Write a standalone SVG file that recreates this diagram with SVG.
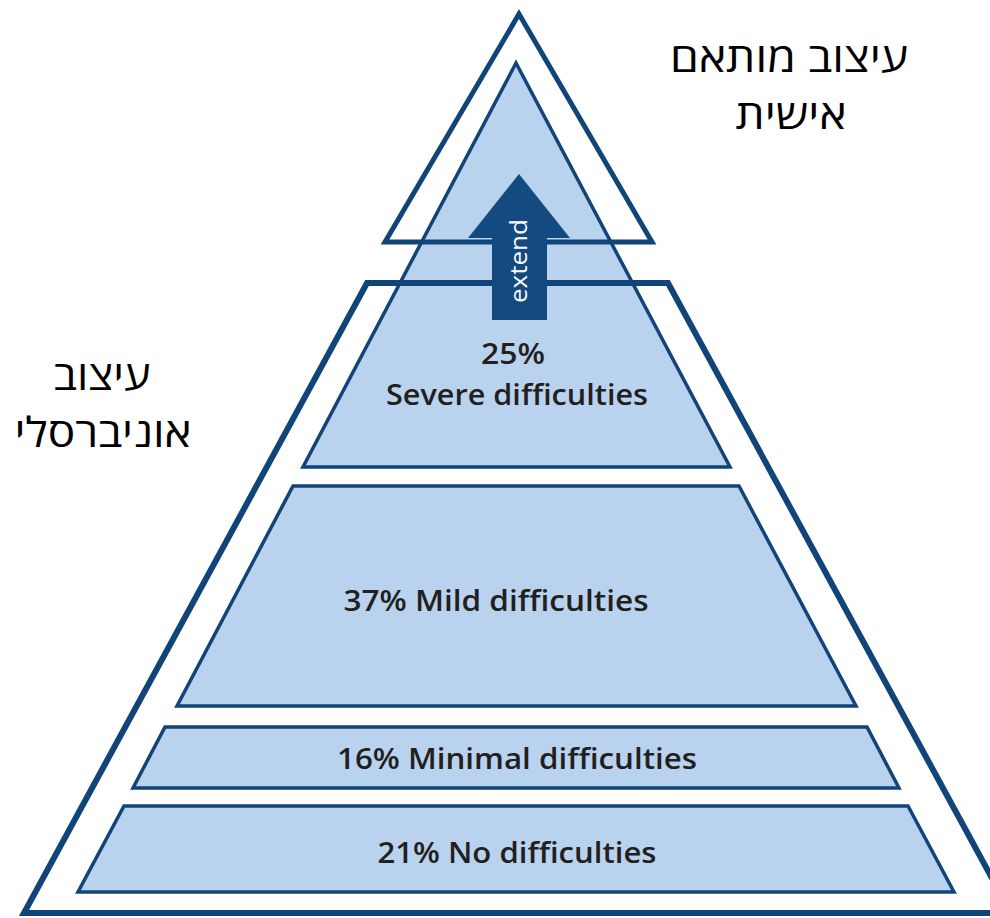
<svg xmlns="http://www.w3.org/2000/svg" width="990" height="918" viewBox="0 0 990 918">
<style>
.band{fill:#b9d3ef;stroke:#114479;stroke-width:3.5;stroke-linejoin:miter}
.frame{fill:none;stroke:#114479;stroke-linejoin:miter}
.lbl{font-family:"Open Sans","Liberation Sans",sans-serif;font-weight:600;fill:#231f20;text-anchor:middle}
.heb{font-family:"Open Sans","DejaVu Sans","Liberation Sans",sans-serif;font-size:41px;fill:#000;text-anchor:middle}
</style>
<rect width="990" height="918" fill="#fff"/>
<g id="band-severe"><polygon class="band" points="516,63 303,467 730,467"/></g>
<g id="band-mild"><polygon class="band" points="293,486 739,486 856,706 177,706"/></g>
<g id="band-minimal"><polygon class="band" points="165,727 867,727 899,788 133,788"/></g>
<g id="band-none"><polygon class="band" points="124,806 908,806 954,892 78,892"/></g>
<g id="universal-frame"><polygon class="frame" stroke-width="6" points="367,283 668,283 1011,913 24,913"/></g>
<g id="personal-frame"><polygon class="frame" stroke-width="5" points="519,14 652,242 385,242"/></g>
<g id="connectors">
<polygon id="extend-arrow" fill="#134a7f" points="519,174 570,238 547,238 547,320 492,320 492,238 468,238"/>
<text transform="translate(527,261) rotate(-90)" font-family="'Open Sans','Liberation Sans',sans-serif" font-size="23" fill="#fff" text-anchor="middle" textLength="84" lengthAdjust="spacingAndGlyphs">extend</text>
</g>
<g id="labels">
<text class="lbl" x="513" y="364" font-size="29" textLength="64" lengthAdjust="spacingAndGlyphs">25%</text>
<text class="lbl" x="517" y="405" font-size="29" textLength="262" lengthAdjust="spacingAndGlyphs">Severe difficulties</text>
<text class="lbl" x="496" y="611" font-size="29" textLength="305" lengthAdjust="spacingAndGlyphs">37% Mild difficulties</text>
<text class="lbl" x="517" y="769" font-size="29" textLength="360" lengthAdjust="spacingAndGlyphs">16% Minimal difficulties</text>
<text class="lbl" x="517" y="863" font-size="29" textLength="279" lengthAdjust="spacingAndGlyphs">21% No difficulties</text>
</g>
<g id="hebrew-labels">
<text class="heb" x="789" y="72" direction="rtl" textLength="238" lengthAdjust="spacingAndGlyphs">עיצוב מותאם</text>
<text class="heb" x="791" y="129" direction="rtl" textLength="111" lengthAdjust="spacingAndGlyphs">אישית</text>
<text class="heb" x="102" y="390" direction="rtl" textLength="97" lengthAdjust="spacingAndGlyphs">עיצוב</text>
<text class="heb" x="103" y="447" direction="rtl" textLength="177" lengthAdjust="spacingAndGlyphs">אוניברסלי</text>
</g>
</svg>
